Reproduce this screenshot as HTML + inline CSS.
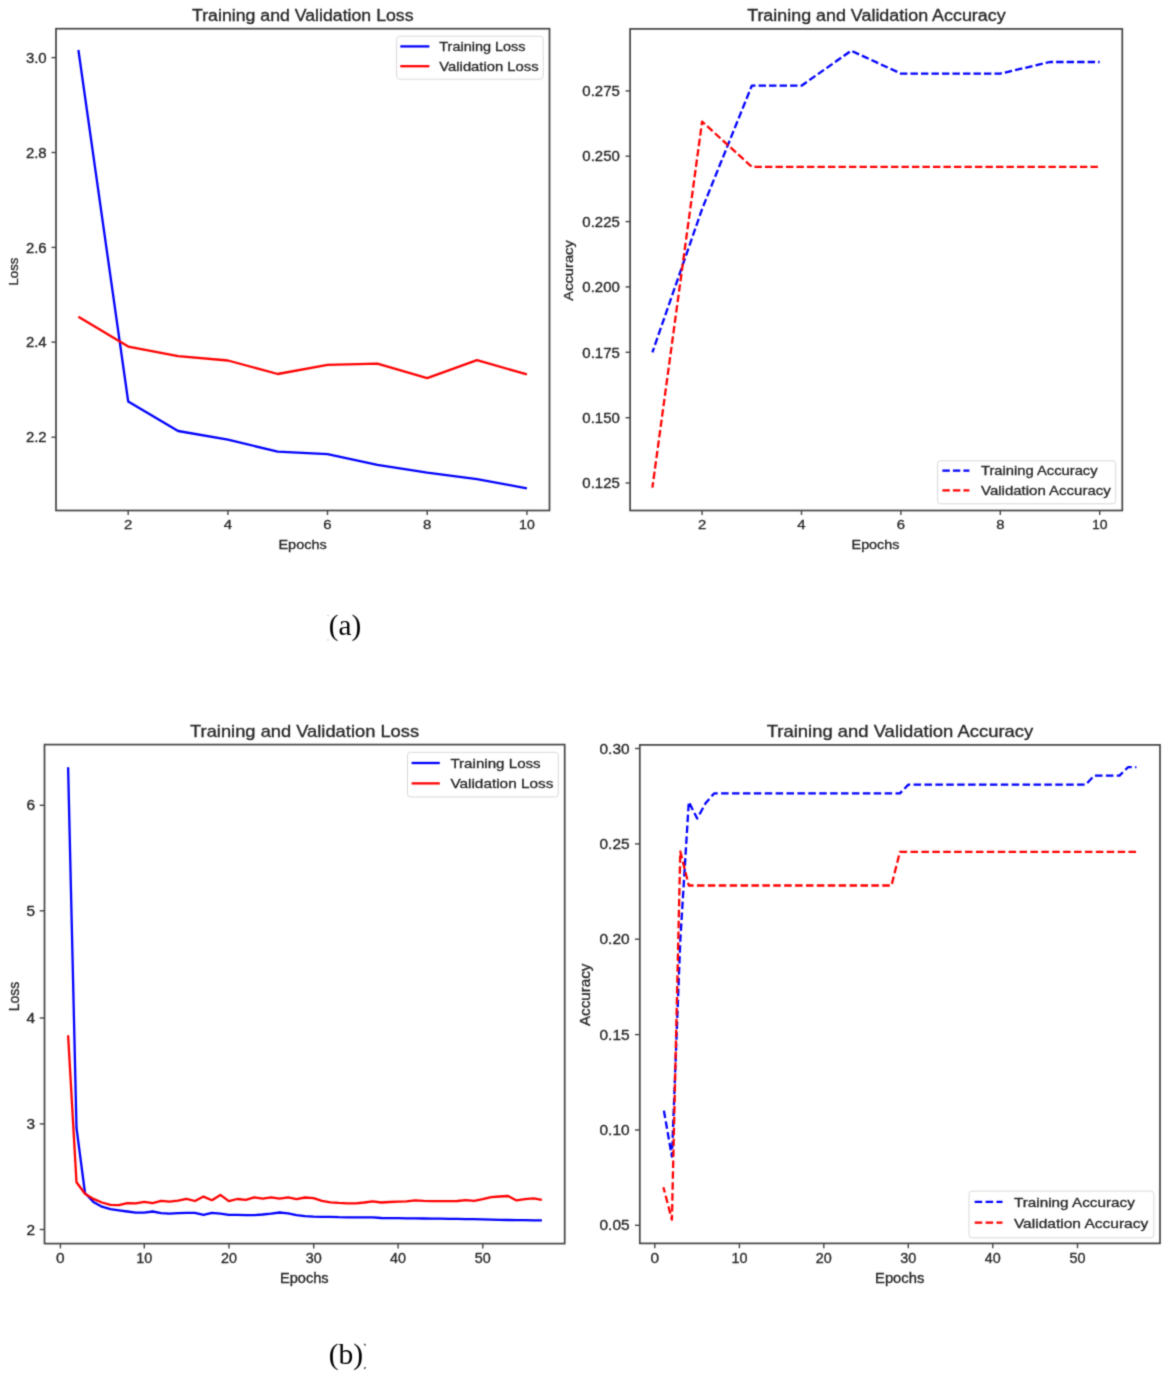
<!DOCTYPE html><html><head><meta charset="utf-8"><style>html,body{margin:0;padding:0;background:#fff;}svg{display:block;}</style></head><body>
<svg width="1170" height="1376" viewBox="0 0 1170 1376">
<rect width="1170" height="1376" fill="#fff"/>
<defs><filter id="sb" filterUnits="userSpaceOnUse" x="0" y="0" width="1170" height="1376" color-interpolation-filters="sRGB"><feConvolveMatrix order="3" kernelMatrix="0.02768 0.11101 0.02768 0.11101 0.44521 0.11101 0.02768 0.11101 0.02768" divisor="1" edgeMode="duplicate" preserveAlpha="false"/></filter></defs><g filter="url(#sb)">
<polyline points="78.4,50.0 128.2,401.5 178.1,431.0 227.9,439.6 277.7,451.7 327.5,454.1 377.4,464.8 427.2,472.7 477.0,479.1 526.9,488.3" fill="none" stroke="#0000ff" stroke-width="2.30" stroke-linejoin="round" stroke-linecap="butt" opacity="1.00"/>
<polyline points="78.4,316.7 128.2,346.6 178.1,356.2 227.9,360.5 277.7,374.0 327.5,364.8 377.4,363.7 427.2,378.2 477.0,360.1 526.9,374.4" fill="none" stroke="#ff0000" stroke-width="2.30" stroke-linejoin="round" stroke-linecap="butt" opacity="1.00"/>
<rect x="56.0" y="28.7" width="493.5" height="481.8" fill="none" stroke="#444" stroke-width="1.70"/>
<line x1="128.2" y1="510.5" x2="128.2" y2="515.0" stroke="#444" stroke-width="1.40"/>
<text x="128.2" y="528.8" font-size="13.50" text-anchor="middle" font-family='"Liberation Sans", sans-serif' fill="#262626" stroke="#262626" stroke-width="0.30" textLength="8.3" lengthAdjust="spacingAndGlyphs">2</text>
<line x1="227.9" y1="510.5" x2="227.9" y2="515.0" stroke="#444" stroke-width="1.40"/>
<text x="227.9" y="528.8" font-size="13.50" text-anchor="middle" font-family='"Liberation Sans", sans-serif' fill="#262626" stroke="#262626" stroke-width="0.30" textLength="8.3" lengthAdjust="spacingAndGlyphs">4</text>
<line x1="327.5" y1="510.5" x2="327.5" y2="515.0" stroke="#444" stroke-width="1.40"/>
<text x="327.5" y="528.8" font-size="13.50" text-anchor="middle" font-family='"Liberation Sans", sans-serif' fill="#262626" stroke="#262626" stroke-width="0.30" textLength="8.3" lengthAdjust="spacingAndGlyphs">6</text>
<line x1="427.2" y1="510.5" x2="427.2" y2="515.0" stroke="#444" stroke-width="1.40"/>
<text x="427.2" y="528.8" font-size="13.50" text-anchor="middle" font-family='"Liberation Sans", sans-serif' fill="#262626" stroke="#262626" stroke-width="0.30" textLength="8.3" lengthAdjust="spacingAndGlyphs">8</text>
<line x1="526.9" y1="510.5" x2="526.9" y2="515.0" stroke="#444" stroke-width="1.40"/>
<text x="526.9" y="528.8" font-size="13.50" text-anchor="middle" font-family='"Liberation Sans", sans-serif' fill="#262626" stroke="#262626" stroke-width="0.30" textLength="15.6" lengthAdjust="spacingAndGlyphs">10</text>
<line x1="51.5" y1="57.6" x2="56.0" y2="57.6" stroke="#444" stroke-width="1.40"/>
<text x="46.7" y="62.8" font-size="13.80" text-anchor="end" font-family='"Liberation Sans", sans-serif' fill="#262626" stroke="#262626" stroke-width="0.30" textLength="20.8" lengthAdjust="spacingAndGlyphs">3.0</text>
<line x1="51.5" y1="152.5" x2="56.0" y2="152.5" stroke="#444" stroke-width="1.40"/>
<text x="46.7" y="157.7" font-size="13.80" text-anchor="end" font-family='"Liberation Sans", sans-serif' fill="#262626" stroke="#262626" stroke-width="0.30" textLength="20.8" lengthAdjust="spacingAndGlyphs">2.8</text>
<line x1="51.5" y1="247.4" x2="56.0" y2="247.4" stroke="#444" stroke-width="1.40"/>
<text x="46.7" y="252.6" font-size="13.80" text-anchor="end" font-family='"Liberation Sans", sans-serif' fill="#262626" stroke="#262626" stroke-width="0.30" textLength="20.8" lengthAdjust="spacingAndGlyphs">2.6</text>
<line x1="51.5" y1="342.1" x2="56.0" y2="342.1" stroke="#444" stroke-width="1.40"/>
<text x="46.7" y="347.3" font-size="13.80" text-anchor="end" font-family='"Liberation Sans", sans-serif' fill="#262626" stroke="#262626" stroke-width="0.30" textLength="20.8" lengthAdjust="spacingAndGlyphs">2.4</text>
<line x1="51.5" y1="437.2" x2="56.0" y2="437.2" stroke="#444" stroke-width="1.40"/>
<text x="46.7" y="442.4" font-size="13.80" text-anchor="end" font-family='"Liberation Sans", sans-serif' fill="#262626" stroke="#262626" stroke-width="0.30" textLength="20.8" lengthAdjust="spacingAndGlyphs">2.2</text>
<text x="302.6" y="549.0" font-size="13.40" text-anchor="middle" font-family='"Liberation Sans", sans-serif' fill="#262626" stroke="#262626" stroke-width="0.30" textLength="48.3" lengthAdjust="spacingAndGlyphs">Epochs</text>
<text x="18.0" y="271.6" font-size="13.40" text-anchor="middle" font-family='"Liberation Sans", sans-serif' fill="#262626" stroke="#262626" stroke-width="0.30" textLength="27.8" lengthAdjust="spacingAndGlyphs" transform="rotate(-90 18.0 271.6)">Loss</text>
<text x="302.8" y="21.2" font-size="15.60" text-anchor="middle" font-family='"Liberation Sans", sans-serif' fill="#262626" stroke="#262626" stroke-width="0.30" textLength="221.5" lengthAdjust="spacingAndGlyphs">Training and Validation Loss</text>
<rect x="396.6" y="36.2" width="146.6" height="43.0" rx="3" ry="3" fill="#fff" stroke="#d9d9d9" stroke-width="1"/>
<line x1="400.3" y1="46.4" x2="429.4" y2="46.4" stroke="#0000ff" stroke-width="2.30"/>
<text x="439.3" y="51.2" font-size="13.20" text-anchor="start" font-family='"Liberation Sans", sans-serif' fill="#262626" stroke="#262626" stroke-width="0.30" textLength="86.2" lengthAdjust="spacingAndGlyphs">Training Loss</text>
<line x1="400.3" y1="66.2" x2="429.4" y2="66.2" stroke="#ff0000" stroke-width="2.30"/>
<text x="439.3" y="70.8" font-size="13.20" text-anchor="start" font-family='"Liberation Sans", sans-serif' fill="#262626" stroke="#262626" stroke-width="0.30" textLength="99.3" lengthAdjust="spacingAndGlyphs">Validation Loss</text>
<polyline points="652.4,352.3 702.1,209.0 751.8,85.7 801.5,85.7 851.2,50.7 900.9,73.6 950.6,73.6 1000.3,73.6 1050.0,62.0 1099.7,62.0" fill="none" stroke="#0000ff" stroke-width="2.30" stroke-linejoin="round" stroke-linecap="butt" stroke-dasharray="7.4 3.1" stroke-dashoffset="2.60" opacity="1.00"/>
<polyline points="652.4,487.7 702.1,121.6 751.8,166.8 801.5,166.8 851.2,166.8 900.9,166.8 950.6,166.8 1000.3,166.8 1050.0,166.8 1099.7,166.8" fill="none" stroke="#ff0000" stroke-width="2.30" stroke-linejoin="round" stroke-linecap="butt" stroke-dasharray="7.4 3.1" stroke-dashoffset="1.70" opacity="1.00"/>
<rect x="630.1" y="28.9" width="492.2" height="481.6" fill="none" stroke="#444" stroke-width="1.70"/>
<line x1="702.1" y1="510.5" x2="702.1" y2="515.0" stroke="#444" stroke-width="1.40"/>
<text x="702.1" y="528.8" font-size="13.50" text-anchor="middle" font-family='"Liberation Sans", sans-serif' fill="#262626" stroke="#262626" stroke-width="0.30" textLength="8.3" lengthAdjust="spacingAndGlyphs">2</text>
<line x1="801.5" y1="510.5" x2="801.5" y2="515.0" stroke="#444" stroke-width="1.40"/>
<text x="801.5" y="528.8" font-size="13.50" text-anchor="middle" font-family='"Liberation Sans", sans-serif' fill="#262626" stroke="#262626" stroke-width="0.30" textLength="8.3" lengthAdjust="spacingAndGlyphs">4</text>
<line x1="900.9" y1="510.5" x2="900.9" y2="515.0" stroke="#444" stroke-width="1.40"/>
<text x="900.9" y="528.8" font-size="13.50" text-anchor="middle" font-family='"Liberation Sans", sans-serif' fill="#262626" stroke="#262626" stroke-width="0.30" textLength="8.3" lengthAdjust="spacingAndGlyphs">6</text>
<line x1="1000.3" y1="510.5" x2="1000.3" y2="515.0" stroke="#444" stroke-width="1.40"/>
<text x="1000.3" y="528.8" font-size="13.50" text-anchor="middle" font-family='"Liberation Sans", sans-serif' fill="#262626" stroke="#262626" stroke-width="0.30" textLength="8.3" lengthAdjust="spacingAndGlyphs">8</text>
<line x1="1099.7" y1="510.5" x2="1099.7" y2="515.0" stroke="#444" stroke-width="1.40"/>
<text x="1099.7" y="528.8" font-size="13.50" text-anchor="middle" font-family='"Liberation Sans", sans-serif' fill="#262626" stroke="#262626" stroke-width="0.30" textLength="15.6" lengthAdjust="spacingAndGlyphs">10</text>
<line x1="625.6" y1="483.0" x2="630.1" y2="483.0" stroke="#444" stroke-width="1.40"/>
<text x="619.8" y="488.2" font-size="13.80" text-anchor="end" font-family='"Liberation Sans", sans-serif' fill="#262626" stroke="#262626" stroke-width="0.30" textLength="37.5" lengthAdjust="spacingAndGlyphs">0.125</text>
<line x1="625.6" y1="417.7" x2="630.1" y2="417.7" stroke="#444" stroke-width="1.40"/>
<text x="619.8" y="422.9" font-size="13.80" text-anchor="end" font-family='"Liberation Sans", sans-serif' fill="#262626" stroke="#262626" stroke-width="0.30" textLength="37.5" lengthAdjust="spacingAndGlyphs">0.150</text>
<line x1="625.6" y1="352.3" x2="630.1" y2="352.3" stroke="#444" stroke-width="1.40"/>
<text x="619.8" y="357.5" font-size="13.80" text-anchor="end" font-family='"Liberation Sans", sans-serif' fill="#262626" stroke="#262626" stroke-width="0.30" textLength="37.5" lengthAdjust="spacingAndGlyphs">0.175</text>
<line x1="625.6" y1="286.9" x2="630.1" y2="286.9" stroke="#444" stroke-width="1.40"/>
<text x="619.8" y="292.1" font-size="13.80" text-anchor="end" font-family='"Liberation Sans", sans-serif' fill="#262626" stroke="#262626" stroke-width="0.30" textLength="37.5" lengthAdjust="spacingAndGlyphs">0.200</text>
<line x1="625.6" y1="221.6" x2="630.1" y2="221.6" stroke="#444" stroke-width="1.40"/>
<text x="619.8" y="226.8" font-size="13.80" text-anchor="end" font-family='"Liberation Sans", sans-serif' fill="#262626" stroke="#262626" stroke-width="0.30" textLength="37.5" lengthAdjust="spacingAndGlyphs">0.225</text>
<line x1="625.6" y1="156.2" x2="630.1" y2="156.2" stroke="#444" stroke-width="1.40"/>
<text x="619.8" y="161.4" font-size="13.80" text-anchor="end" font-family='"Liberation Sans", sans-serif' fill="#262626" stroke="#262626" stroke-width="0.30" textLength="37.5" lengthAdjust="spacingAndGlyphs">0.250</text>
<line x1="625.6" y1="90.9" x2="630.1" y2="90.9" stroke="#444" stroke-width="1.40"/>
<text x="619.8" y="96.1" font-size="13.80" text-anchor="end" font-family='"Liberation Sans", sans-serif' fill="#262626" stroke="#262626" stroke-width="0.30" textLength="37.5" lengthAdjust="spacingAndGlyphs">0.275</text>
<text x="875.5" y="549.0" font-size="13.40" text-anchor="middle" font-family='"Liberation Sans", sans-serif' fill="#262626" stroke="#262626" stroke-width="0.30" textLength="47.8" lengthAdjust="spacingAndGlyphs">Epochs</text>
<text x="573.3" y="270.4" font-size="13.40" text-anchor="middle" font-family='"Liberation Sans", sans-serif' fill="#262626" stroke="#262626" stroke-width="0.30" textLength="60.5" lengthAdjust="spacingAndGlyphs" transform="rotate(-90 573.3 270.4)">Accuracy</text>
<text x="876.4" y="21.1" font-size="15.60" text-anchor="middle" font-family='"Liberation Sans", sans-serif' fill="#262626" stroke="#262626" stroke-width="0.30" textLength="258.5" lengthAdjust="spacingAndGlyphs">Training and Validation Accuracy</text>
<rect x="937.6" y="460.8" width="178.1" height="43.0" rx="3" ry="3" fill="#fff" stroke="#d9d9d9" stroke-width="1"/>
<line x1="942.4" y1="470.6" x2="969.4" y2="470.6" stroke="#0000ff" stroke-width="2.30" stroke-dasharray="7.4 3.1"/>
<text x="981.0" y="475.4" font-size="13.20" text-anchor="start" font-family='"Liberation Sans", sans-serif' fill="#262626" stroke="#262626" stroke-width="0.30" textLength="116.6" lengthAdjust="spacingAndGlyphs">Training Accuracy</text>
<line x1="942.4" y1="490.4" x2="969.4" y2="490.4" stroke="#ff0000" stroke-width="2.30" stroke-dasharray="7.4 3.1"/>
<text x="981.0" y="495.2" font-size="13.20" text-anchor="start" font-family='"Liberation Sans", sans-serif' fill="#262626" stroke="#262626" stroke-width="0.30" textLength="129.8" lengthAdjust="spacingAndGlyphs">Validation Accuracy</text>
<rect x="327.2" y="614.8" width="1.5" height="1.4" fill="#d0d0d0"/>
<rect x="327.2" y="639.2" width="1.5" height="1.4" fill="#d0d0d0"/>
<text x="344.9" y="634.5" font-size="30.00" text-anchor="middle" font-family='"Liberation Serif", serif' fill="#000" textLength="32.5" lengthAdjust="spacingAndGlyphs">(a)</text>
<polyline points="68.1,767.2 76.5,1128.0 85.0,1193.0 93.4,1201.9 101.9,1206.7 110.4,1209.1 118.8,1210.3 127.3,1211.5 135.8,1212.7 144.2,1212.7 152.7,1211.5 161.1,1213.2 169.6,1213.6 178.1,1213.2 186.5,1212.9 195.0,1212.8 203.5,1214.9 211.9,1212.8 220.4,1213.7 228.8,1214.9 237.3,1214.9 245.8,1215.1 254.2,1215.1 262.7,1214.5 271.1,1213.7 279.6,1212.5 288.1,1213.3 296.5,1215.1 305.0,1216.1 313.5,1216.7 321.9,1216.9 330.4,1216.9 338.8,1217.2 347.3,1217.3 355.8,1217.3 364.2,1217.3 372.7,1217.3 381.2,1218.0 389.6,1218.2 398.1,1218.2 406.5,1218.3 415.0,1218.4 423.5,1218.5 431.9,1218.6 440.4,1218.7 448.9,1218.8 457.3,1218.9 465.8,1219.1 474.2,1219.2 482.7,1219.4 491.2,1219.6 499.6,1219.8 508.1,1220.0 516.5,1220.1 525.0,1220.2 533.5,1220.3 541.9,1220.4" fill="none" stroke="#0000ff" stroke-width="2.30" stroke-linejoin="round" stroke-linecap="butt" opacity="1.00"/>
<polyline points="68.1,1035.2 76.5,1182.2 85.0,1193.8 93.4,1198.9 101.9,1202.5 110.4,1204.9 118.8,1205.2 127.3,1203.1 135.8,1203.3 144.2,1201.9 152.7,1203.1 161.1,1200.9 169.6,1201.6 178.1,1200.7 186.5,1198.9 195.0,1201.0 203.5,1196.6 211.9,1200.2 220.4,1194.9 228.8,1201.1 237.3,1199.0 245.8,1199.9 254.2,1197.3 262.7,1198.7 271.1,1197.3 279.6,1198.7 288.1,1197.3 296.5,1199.1 305.0,1197.5 313.5,1198.1 321.9,1200.9 330.4,1202.3 338.8,1202.9 347.3,1203.3 355.8,1203.3 364.2,1202.5 372.7,1201.4 381.2,1202.5 389.6,1202.0 398.1,1201.7 406.5,1201.4 415.0,1200.3 423.5,1200.9 431.9,1201.1 440.4,1201.1 448.9,1201.1 457.3,1201.0 465.8,1200.1 474.2,1200.9 482.7,1199.1 491.2,1197.1 499.6,1196.5 508.1,1196.0 516.5,1200.4 525.0,1199.1 533.5,1198.4 541.9,1199.8" fill="none" stroke="#ff0000" stroke-width="2.30" stroke-linejoin="round" stroke-linecap="butt" opacity="1.00"/>
<rect x="44.5" y="744.6" width="520.2" height="499.0" fill="none" stroke="#444" stroke-width="1.70"/>
<line x1="60.4" y1="1243.6" x2="60.4" y2="1248.4" stroke="#444" stroke-width="1.40"/>
<text x="60.4" y="1262.8" font-size="14.00" text-anchor="middle" font-family='"Liberation Sans", sans-serif' fill="#262626" stroke="#262626" stroke-width="0.30" textLength="8.6" lengthAdjust="spacingAndGlyphs">0</text>
<line x1="144.3" y1="1243.6" x2="144.3" y2="1248.4" stroke="#444" stroke-width="1.40"/>
<text x="144.3" y="1262.8" font-size="14.00" text-anchor="middle" font-family='"Liberation Sans", sans-serif' fill="#262626" stroke="#262626" stroke-width="0.30" textLength="16.0" lengthAdjust="spacingAndGlyphs">10</text>
<line x1="229.0" y1="1243.6" x2="229.0" y2="1248.4" stroke="#444" stroke-width="1.40"/>
<text x="229.0" y="1262.8" font-size="14.00" text-anchor="middle" font-family='"Liberation Sans", sans-serif' fill="#262626" stroke="#262626" stroke-width="0.30" textLength="16.0" lengthAdjust="spacingAndGlyphs">20</text>
<line x1="313.7" y1="1243.6" x2="313.7" y2="1248.4" stroke="#444" stroke-width="1.40"/>
<text x="313.7" y="1262.8" font-size="14.00" text-anchor="middle" font-family='"Liberation Sans", sans-serif' fill="#262626" stroke="#262626" stroke-width="0.30" textLength="16.0" lengthAdjust="spacingAndGlyphs">30</text>
<line x1="398.1" y1="1243.6" x2="398.1" y2="1248.4" stroke="#444" stroke-width="1.40"/>
<text x="398.1" y="1262.8" font-size="14.00" text-anchor="middle" font-family='"Liberation Sans", sans-serif' fill="#262626" stroke="#262626" stroke-width="0.30" textLength="16.0" lengthAdjust="spacingAndGlyphs">40</text>
<line x1="482.8" y1="1243.6" x2="482.8" y2="1248.4" stroke="#444" stroke-width="1.40"/>
<text x="482.8" y="1262.8" font-size="14.00" text-anchor="middle" font-family='"Liberation Sans", sans-serif' fill="#262626" stroke="#262626" stroke-width="0.30" textLength="16.0" lengthAdjust="spacingAndGlyphs">50</text>
<line x1="39.7" y1="805.3" x2="44.5" y2="805.3" stroke="#444" stroke-width="1.40"/>
<text x="35.2" y="810.3" font-size="14.00" text-anchor="end" font-family='"Liberation Sans", sans-serif' fill="#262626" stroke="#262626" stroke-width="0.30" textLength="8.6" lengthAdjust="spacingAndGlyphs">6</text>
<line x1="39.7" y1="910.8" x2="44.5" y2="910.8" stroke="#444" stroke-width="1.40"/>
<text x="35.2" y="915.8" font-size="14.00" text-anchor="end" font-family='"Liberation Sans", sans-serif' fill="#262626" stroke="#262626" stroke-width="0.30" textLength="8.6" lengthAdjust="spacingAndGlyphs">5</text>
<line x1="39.7" y1="1018.0" x2="44.5" y2="1018.0" stroke="#444" stroke-width="1.40"/>
<text x="35.2" y="1023.0" font-size="14.00" text-anchor="end" font-family='"Liberation Sans", sans-serif' fill="#262626" stroke="#262626" stroke-width="0.30" textLength="8.6" lengthAdjust="spacingAndGlyphs">4</text>
<line x1="39.7" y1="1123.9" x2="44.5" y2="1123.9" stroke="#444" stroke-width="1.40"/>
<text x="35.2" y="1128.9" font-size="14.00" text-anchor="end" font-family='"Liberation Sans", sans-serif' fill="#262626" stroke="#262626" stroke-width="0.30" textLength="8.6" lengthAdjust="spacingAndGlyphs">3</text>
<line x1="39.7" y1="1229.5" x2="44.5" y2="1229.5" stroke="#444" stroke-width="1.40"/>
<text x="35.2" y="1234.5" font-size="14.00" text-anchor="end" font-family='"Liberation Sans", sans-serif' fill="#262626" stroke="#262626" stroke-width="0.30" textLength="8.6" lengthAdjust="spacingAndGlyphs">2</text>
<text x="304.3" y="1282.8" font-size="14.20" text-anchor="middle" font-family='"Liberation Sans", sans-serif' fill="#262626" stroke="#262626" stroke-width="0.30" textLength="48.8" lengthAdjust="spacingAndGlyphs">Epochs</text>
<text x="18.6" y="996.5" font-size="14.00" text-anchor="middle" font-family='"Liberation Sans", sans-serif' fill="#262626" stroke="#262626" stroke-width="0.30" textLength="29.5" lengthAdjust="spacingAndGlyphs" transform="rotate(-90 18.6 996.5)">Loss</text>
<text x="304.6" y="736.8" font-size="16.20" text-anchor="middle" font-family='"Liberation Sans", sans-serif' fill="#262626" stroke="#262626" stroke-width="0.30" textLength="229.0" lengthAdjust="spacingAndGlyphs">Training and Validation Loss</text>
<rect x="407.5" y="752.3" width="150.8" height="44.7" rx="3" ry="3" fill="#fff" stroke="#d9d9d9" stroke-width="1"/>
<line x1="411.6" y1="763.0" x2="439.8" y2="763.0" stroke="#0000ff" stroke-width="2.30"/>
<text x="450.4" y="768.0" font-size="13.60" text-anchor="start" font-family='"Liberation Sans", sans-serif' fill="#262626" stroke="#262626" stroke-width="0.30" textLength="90.3" lengthAdjust="spacingAndGlyphs">Training Loss</text>
<line x1="411.6" y1="783.4" x2="439.8" y2="783.4" stroke="#ff0000" stroke-width="2.30"/>
<text x="450.4" y="788.4" font-size="13.60" text-anchor="start" font-family='"Liberation Sans", sans-serif' fill="#262626" stroke="#262626" stroke-width="0.30" textLength="103.0" lengthAdjust="spacingAndGlyphs">Validation Loss</text>
<polyline points="663.4,1107.8 671.9,1156.6 680.3,940.2 688.8,801.9 697.2,818.5 705.7,803.1 714.1,793.4 722.6,793.4 731.0,793.4 739.5,793.4 747.9,793.4 756.4,793.4 764.8,793.4 773.2,793.4 781.7,793.4 790.1,793.4 798.6,793.4 807.0,793.4 815.5,793.4 823.9,793.4 832.4,793.4 840.8,793.4 849.3,793.4 857.7,793.4 866.1,793.4 874.6,793.4 883.0,793.4 891.5,793.4 899.9,793.4 908.4,784.6 916.8,784.6 925.3,784.6 933.7,784.6 942.2,784.6 950.6,784.6 959.1,784.6 967.5,784.6 975.9,784.6 984.4,784.6 992.8,784.6 1001.3,784.6 1009.7,784.6 1018.2,784.6 1026.6,784.6 1035.1,784.6 1043.5,784.6 1052.0,784.6 1060.4,784.6 1068.9,784.6 1077.3,784.6 1085.7,784.6 1094.2,775.6 1102.6,775.6 1111.1,775.6 1119.5,775.6 1128.0,767.2 1136.4,767.2" fill="none" stroke="#0000ff" stroke-width="2.30" stroke-linejoin="round" stroke-linecap="butt" stroke-dasharray="7.5 3.4" stroke-dashoffset="-2.90" opacity="1.00"/>
<polyline points="663.4,1187.2 671.9,1219.6 680.3,851.5 688.8,885.5 697.2,885.5 705.7,885.5 714.1,885.5 722.6,885.5 731.0,885.5 739.5,885.5 747.9,885.5 756.4,885.5 764.8,885.5 773.2,885.5 781.7,885.5 790.1,885.5 798.6,885.5 807.0,885.5 815.5,885.5 823.9,885.5 832.4,885.5 840.8,885.5 849.3,885.5 857.7,885.5 866.1,885.5 874.6,885.5 883.0,885.5 891.5,885.5 899.9,851.9 908.4,851.9 916.8,851.9 925.3,851.9 933.7,851.9 942.2,851.9 950.6,851.9 959.1,851.9 967.5,851.9 975.9,851.9 984.4,851.9 992.8,851.9 1001.3,851.9 1009.7,851.9 1018.2,851.9 1026.6,851.9 1035.1,851.9 1043.5,851.9 1052.0,851.9 1060.4,851.9 1068.9,851.9 1077.3,851.9 1085.7,851.9 1094.2,851.9 1102.6,851.9 1111.1,851.9 1119.5,851.9 1128.0,851.9 1136.4,851.9" fill="none" stroke="#ff0000" stroke-width="2.30" stroke-linejoin="round" stroke-linecap="butt" stroke-dasharray="7.5 3.4" stroke-dashoffset="2.00" opacity="1.00"/>
<rect x="639.8" y="744.9" width="520.2" height="498.5" fill="none" stroke="#444" stroke-width="1.70"/>
<line x1="654.8" y1="1243.4" x2="654.8" y2="1248.2" stroke="#444" stroke-width="1.40"/>
<text x="654.8" y="1262.8" font-size="14.00" text-anchor="middle" font-family='"Liberation Sans", sans-serif' fill="#262626" stroke="#262626" stroke-width="0.30" textLength="8.6" lengthAdjust="spacingAndGlyphs">0</text>
<line x1="739.4" y1="1243.4" x2="739.4" y2="1248.2" stroke="#444" stroke-width="1.40"/>
<text x="739.4" y="1262.8" font-size="14.00" text-anchor="middle" font-family='"Liberation Sans", sans-serif' fill="#262626" stroke="#262626" stroke-width="0.30" textLength="16.0" lengthAdjust="spacingAndGlyphs">10</text>
<line x1="823.8" y1="1243.4" x2="823.8" y2="1248.2" stroke="#444" stroke-width="1.40"/>
<text x="823.8" y="1262.8" font-size="14.00" text-anchor="middle" font-family='"Liberation Sans", sans-serif' fill="#262626" stroke="#262626" stroke-width="0.30" textLength="16.0" lengthAdjust="spacingAndGlyphs">20</text>
<line x1="908.3" y1="1243.4" x2="908.3" y2="1248.2" stroke="#444" stroke-width="1.40"/>
<text x="908.3" y="1262.8" font-size="14.00" text-anchor="middle" font-family='"Liberation Sans", sans-serif' fill="#262626" stroke="#262626" stroke-width="0.30" textLength="16.0" lengthAdjust="spacingAndGlyphs">30</text>
<line x1="992.8" y1="1243.4" x2="992.8" y2="1248.2" stroke="#444" stroke-width="1.40"/>
<text x="992.8" y="1262.8" font-size="14.00" text-anchor="middle" font-family='"Liberation Sans", sans-serif' fill="#262626" stroke="#262626" stroke-width="0.30" textLength="16.0" lengthAdjust="spacingAndGlyphs">40</text>
<line x1="1077.5" y1="1243.4" x2="1077.5" y2="1248.2" stroke="#444" stroke-width="1.40"/>
<text x="1077.5" y="1262.8" font-size="14.00" text-anchor="middle" font-family='"Liberation Sans", sans-serif' fill="#262626" stroke="#262626" stroke-width="0.30" textLength="16.0" lengthAdjust="spacingAndGlyphs">50</text>
<line x1="635.0" y1="1225.3" x2="639.8" y2="1225.3" stroke="#444" stroke-width="1.40"/>
<text x="629.6" y="1230.3" font-size="14.00" text-anchor="end" font-family='"Liberation Sans", sans-serif' fill="#262626" stroke="#262626" stroke-width="0.30" textLength="30.1" lengthAdjust="spacingAndGlyphs">0.05</text>
<line x1="635.0" y1="1130.0" x2="639.8" y2="1130.0" stroke="#444" stroke-width="1.40"/>
<text x="629.6" y="1135.0" font-size="14.00" text-anchor="end" font-family='"Liberation Sans", sans-serif' fill="#262626" stroke="#262626" stroke-width="0.30" textLength="30.1" lengthAdjust="spacingAndGlyphs">0.10</text>
<line x1="635.0" y1="1034.6" x2="639.8" y2="1034.6" stroke="#444" stroke-width="1.40"/>
<text x="629.6" y="1039.6" font-size="14.00" text-anchor="end" font-family='"Liberation Sans", sans-serif' fill="#262626" stroke="#262626" stroke-width="0.30" textLength="30.1" lengthAdjust="spacingAndGlyphs">0.15</text>
<line x1="635.0" y1="939.2" x2="639.8" y2="939.2" stroke="#444" stroke-width="1.40"/>
<text x="629.6" y="944.2" font-size="14.00" text-anchor="end" font-family='"Liberation Sans", sans-serif' fill="#262626" stroke="#262626" stroke-width="0.30" textLength="30.1" lengthAdjust="spacingAndGlyphs">0.20</text>
<line x1="635.0" y1="843.9" x2="639.8" y2="843.9" stroke="#444" stroke-width="1.40"/>
<text x="629.6" y="848.9" font-size="14.00" text-anchor="end" font-family='"Liberation Sans", sans-serif' fill="#262626" stroke="#262626" stroke-width="0.30" textLength="30.1" lengthAdjust="spacingAndGlyphs">0.25</text>
<line x1="635.0" y1="748.5" x2="639.8" y2="748.5" stroke="#444" stroke-width="1.40"/>
<text x="629.6" y="753.5" font-size="14.00" text-anchor="end" font-family='"Liberation Sans", sans-serif' fill="#262626" stroke="#262626" stroke-width="0.30" textLength="30.1" lengthAdjust="spacingAndGlyphs">0.30</text>
<text x="899.7" y="1282.8" font-size="14.20" text-anchor="middle" font-family='"Liberation Sans", sans-serif' fill="#262626" stroke="#262626" stroke-width="0.30" textLength="49.3" lengthAdjust="spacingAndGlyphs">Epochs</text>
<text x="590.3" y="994.8" font-size="14.00" text-anchor="middle" font-family='"Liberation Sans", sans-serif' fill="#262626" stroke="#262626" stroke-width="0.30" textLength="62.5" lengthAdjust="spacingAndGlyphs" transform="rotate(-90 590.3 994.8)">Accuracy</text>
<text x="900.0" y="737.3" font-size="16.20" text-anchor="middle" font-family='"Liberation Sans", sans-serif' fill="#262626" stroke="#262626" stroke-width="0.30" textLength="266.5" lengthAdjust="spacingAndGlyphs">Training and Validation Accuracy</text>
<rect x="969.0" y="1191.1" width="184.9" height="46.7" rx="3" ry="3" fill="#fff" stroke="#d9d9d9" stroke-width="1"/>
<line x1="974.7" y1="1201.9" x2="1002.5" y2="1201.9" stroke="#0000ff" stroke-width="2.30" stroke-dasharray="7.5 3.4"/>
<text x="1013.9" y="1207.1" font-size="13.60" text-anchor="start" font-family='"Liberation Sans", sans-serif' fill="#262626" stroke="#262626" stroke-width="0.30" textLength="121.0" lengthAdjust="spacingAndGlyphs">Training Accuracy</text>
<line x1="974.7" y1="1222.7" x2="1002.5" y2="1222.7" stroke="#ff0000" stroke-width="2.30" stroke-dasharray="7.5 3.4"/>
<text x="1013.9" y="1227.9" font-size="13.60" text-anchor="start" font-family='"Liberation Sans", sans-serif' fill="#262626" stroke="#262626" stroke-width="0.30" textLength="134.4" lengthAdjust="spacingAndGlyphs">Validation Accuracy</text>
<text x="345.9" y="1364.3" font-size="30.00" text-anchor="middle" font-family='"Liberation Serif", serif' fill="#000" textLength="34.5" lengthAdjust="spacingAndGlyphs">(b)</text>
<line x1="364.2" y1="1343.8" x2="365.6" y2="1345.6" stroke="#222" stroke-width="1.1"/>
<line x1="365.6" y1="1367.2" x2="364.2" y2="1369" stroke="#222" stroke-width="1.1"/>
</g></svg></body></html>
